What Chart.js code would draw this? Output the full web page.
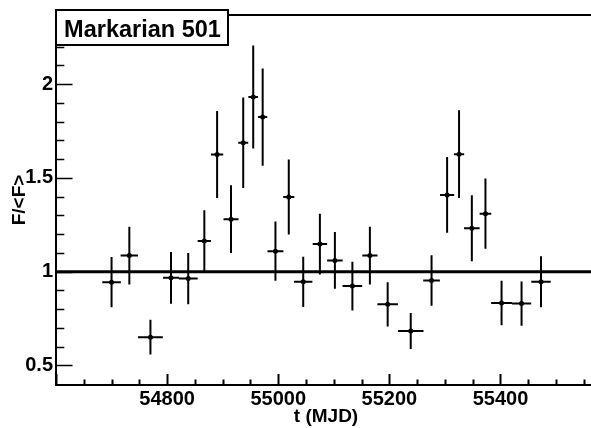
<!DOCTYPE html>
<html>
<head>
<meta charset="utf-8">
<script src="https://cdn.jsdelivr.net/npm/chart.js@4/dist/chart.umd.min.js"></script>
<style>
  html, body { margin: 0; padding: 0; background: #fff; overflow: hidden; }
  #wrap { width: 600px; height: 428px; }
</style>
</head>
<body>
<div id="wrap"><canvas id="lightCurve" width="600" height="428"></canvas></div>
<script>
// light curve bins (MJD centre, half width) and normalised flux with errors
const mjd     = [54700, 54732, 54770, 54807, 54838, 54867, 54890, 54915, 54937, 54955,
                 54972, 54995, 55019, 55045, 55075, 55102, 55133.5, 55165, 55197, 55238.5,
                 55276, 55304, 55325.5, 55348.5, 55373, 55402, 55438, 55473];
const mjdErr  = [16.7, 15.7, 22.3, 14.3, 17, 12, 11, 13.5, 9, 8.7,
                 8.3, 14.3, 10, 16.5, 13, 14, 17.7, 13.7, 18.5, 23,
                 15, 12.7, 9.2, 14, 10.5, 18.7, 17.3, 17.5];
const flux    = [0.944, 1.086, 0.651, 0.967, 0.963, 1.163, 1.624, 1.28, 1.687, 1.931,
                 1.824, 1.109, 1.398, 0.946, 1.147, 1.06, 0.923, 1.086, 0.826, 0.684,
                 0.953, 1.409, 1.626, 1.231, 1.309, 0.833, 0.83, 0.946];
const fluxErr = [0.134, 0.154, 0.093, 0.138, 0.137, 0.165, 0.232, 0.181, 0.241, 0.275,
                 0.259, 0.158, 0.2, 0.134, 0.162, 0.151, 0.13, 0.154, 0.118, 0.096,
                 0.134, 0.202, 0.234, 0.176, 0.187, 0.119, 0.118, 0.136];

// mean level line
const refX = [54600, 55572];
const refY = [1, 1];

const xTicks = [54800, 55000, 55200, 55400];
const yTicks = [0.5, 1, 1.5, 2];

const FONT = "'Liberation Sans', Arial, Helvetica, sans-serif";

// ROOT style error crosses
const errorBars = {
    id: 'errorBars',
    afterDatasetsDraw(chart) {
        const { ctx, scales: { x, y } } = chart;
        ctx.save();
        ctx.strokeStyle = '#000';
        ctx.lineWidth = 2;
        mjd.forEach((t, i) => {
            const px = x.getPixelForValue(t);
            const py = y.getPixelForValue(flux[i]);
            ctx.beginPath();
            ctx.moveTo(x.getPixelForValue(t - mjdErr[i]), py);
            ctx.lineTo(x.getPixelForValue(t + mjdErr[i]), py);
            ctx.moveTo(px, y.getPixelForValue(flux[i] + fluxErr[i]));
            ctx.lineTo(px, y.getPixelForValue(flux[i] - fluxErr[i]));
            ctx.stroke();
        });
        ctx.restore();
    }
};

// frame, inward ticks and the title box
const frame = {
    id: 'frame',
    afterDraw(chart) {
        const { ctx, chartArea: a, scales: { x, y } } = chart;
        ctx.save();
        ctx.strokeStyle = '#000';
        ctx.lineWidth = 2;
        ctx.strokeRect(a.left, a.top, a.right - a.left, a.bottom - a.top);

        ctx.beginPath();
        for (let v = 54600; v <= x.max; v += 50) {
            const px = Math.round(x.getPixelForValue(v)) + 0.5;
            const len = (v % 200 === 0) ? 11 : 5.5;
            ctx.moveTo(px, a.bottom);
            ctx.lineTo(px, a.bottom - len);
        }
        ctx.stroke();

        ctx.lineWidth = 1.5;
        ctx.beginPath();
        for (let k = 5; k <= 23; k++) {
            const py = Math.round(y.getPixelForValue(k / 10)) + 0.5;
            const len = (k % 5 === 0) ? 16.5 : 8.3;
            ctx.moveTo(a.left, py);
            ctx.lineTo(a.left + len, py);
        }
        ctx.stroke();

        // title box
        ctx.lineWidth = 2;
        ctx.fillStyle = '#fff';
        ctx.fillRect(56, 10, 172, 35);
        ctx.strokeRect(56, 10, 172, 35);
        ctx.fillStyle = '#000';
        ctx.font = 'bold 23.5px ' + FONT;
        ctx.textAlign = 'center';
        ctx.textBaseline = 'alphabetic';
        ctx.fillText('Markarian 501', 142.5, 36.5);
        ctx.restore();
    }
};

const tickFont = { family: FONT, size: 20, weight: 'bold' };

new Chart(document.getElementById('lightCurve'), {
    type: 'scatter',
    data: {
        datasets: [{
            type: 'line',
            data: refX.map((v, i) => ({ x: v, y: refY[i] })),
            borderColor: '#000',
            borderWidth: 3,
            pointRadius: 0,
            fill: false
        }, {
            data: mjd.map((t, i) => ({ x: t, y: flux[i] })),
            backgroundColor: '#000',
            borderWidth: 0,
            pointRadius: 2.5
        }]
    },
    options: {
        responsive: false,
        animation: false,
        devicePixelRatio: 1,
        layout: { padding: { top: 10, left: 0, right: 0, bottom: 0 } },
        plugins: {
            legend: { display: false },
            tooltip: { enabled: false }
        },
        scales: {
            x: {
                type: 'linear',
                min: 54600,
                max: 55572,
                grid: { display: false, drawTicks: false },
                border: { display: false },
                afterBuildTicks: s => { s.ticks = xTicks.map(v => ({ value: v })); },
                afterFit: s => { s.height = 43; },
                ticks: {
                    color: '#000',
                    font: tickFont,
                    padding: 2,
                    maxRotation: 0,
                    autoSkip: false,
                    callback: v => String(v)
                },
                title: {
                    display: true,
                    text: 't (MJD)',
                    color: '#000',
                    font: { family: FONT, size: 19, weight: 'bold', lineHeight: 1 },
                    padding: { top: 0, bottom: 2 }
                }
            },
            y: {
                min: 0.396,
                max: 2.368,
                grid: { display: false, drawTicks: false },
                border: { display: false },
                afterBuildTicks: s => { s.ticks = yTicks.map(v => ({ value: v })); },
                afterFit: s => { s.width = 56; },
                ticks: {
                    color: '#000',
                    font: tickFont,
                    padding: 3,
                    autoSkip: false,
                    callback: v => String(v)
                },
                title: {
                    display: true,
                    text: 'F/<F>',
                    color: '#000',
                    font: { family: FONT, size: 19, weight: 'bold', lineHeight: 1 },
                    padding: { top: 10.5, bottom: 0 }
                }
            }
        }
    },
    plugins: [errorBars, frame]
});
</script>
</body>
</html>
